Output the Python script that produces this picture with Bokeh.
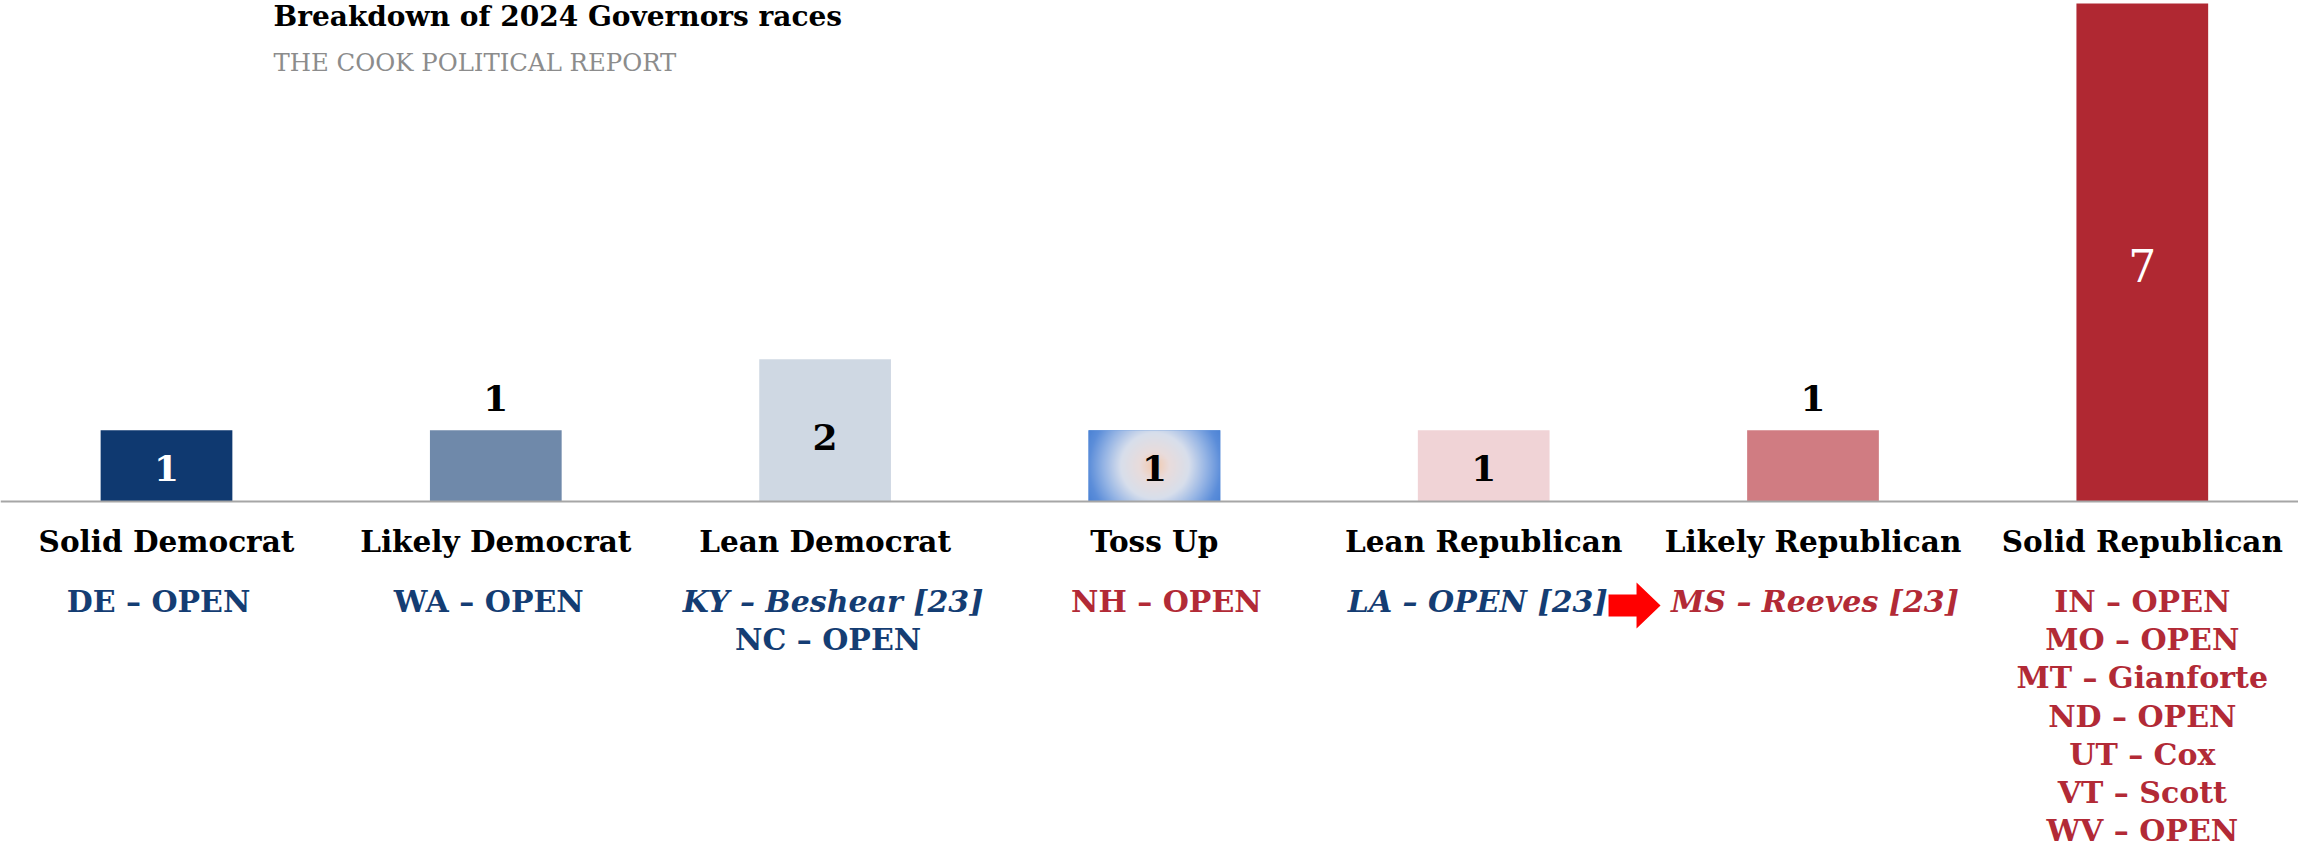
import numpy as np
from bokeh.plotting import figure
from bokeh.models import ColumnDataSource, Range1d, Span, Label
from bokeh.core.properties import value
from bokeh.embed import file_html
from bokeh.resources import INLINE

# ---------------- data ----------------
title_text = "Breakdown of 2024 Governors races"
subtitle_text = "THE COOK POLITICAL REPORT"

categories = ["Solid Democrat", "Likely Democrat", "Lean Democrat", "Toss Up",
              "Lean Republican", "Likely Republican", "Solid Republican"]
counts = [1, 1, 2, 1, 1, 1, 7]

race_category = ["Solid Democrat", "Likely Democrat", "Lean Democrat", "Lean Democrat",
                 "Toss Up", "Lean Republican", "Likely Republican",
                 "Solid Republican", "Solid Republican", "Solid Republican",
                 "Solid Republican", "Solid Republican", "Solid Republican", "Solid Republican"]
race_text = ["DE – OPEN", "WA – OPEN", "KY – Beshear [23]", "NC – OPEN",
             "NH – OPEN", "LA – OPEN [23]", "MS – Reeves [23]",
             "IN – OPEN", "MO – OPEN", "MT – Gianforte", "ND – OPEN",
             "UT – Cox", "VT – Scott", "WV – OPEN"]
race_party = ["D", "D", "D", "D", "R", "D", "R", "R", "R", "R", "R", "R", "R", "R"]
race_2023 = [False, False, True, False, False, True, True,
             False, False, False, False, False, False, False]

# ---------------- styles ----------------
bar_colors = ["#0f3970", "#6f89aa", "#cfd8e3", "#5089d6", "#f0d3d6", "#d07c82", "#b02832"]
label_place = ["inside", "above", "inside", "inside", "inside", "above", "inside"]
label_shift_px = [2, 0, 7, 2, 2, 0, 13]
label_colors = ["white", "black", "black", "black", "black", "black", "white"]
label_styles = ["bold", "bold", "bold", "bold", "bold", "bold", "normal"]
label_sizes = ["36px", "36px", "36px", "36px", "36px", "36px", "44px"]
race_shift_px = [-8, -7, 8, 3, 12, -6, 2, 0, 0, 0, 0, 0, 0, 0]
party_color = {"D": "#143d73", "R": "#b22a36"}
FONT = "DejaVu Serif"
SERIF = value(FONT)

W, H = 2298, 848
PXX = 329.3                 # pixels per category unit
X0 = -166.0 / PXX
X1 = X0 + W / PXX
BASE_PX = 501.0             # baseline position from top
PXU = (BASE_PX - 3.0) / 7.0  # pixels per count unit
Y1 = BASE_PX / PXU
Y0 = Y1 - H / PXU
BAR_W = 0.4


def dy(px):
    return px / PXU


p = figure(width=W, height=H, x_range=Range1d(X0, X1), y_range=Range1d(Y0, Y1),
           output_backend="svg", toolbar_location=None, min_border=0,
           x_axis_location=None, y_axis_location=None)
p.grid.visible = False
p.outline_line_color = None
p.background_fill_color = "white"
p.border_fill_color = "white"

idx = list(range(len(categories)))
bars = ColumnDataSource(dict(x=idx, top=counts, color=bar_colors))
p.vbar(x="x", top="top", bottom=0, width=BAR_W, fill_color="color", line_color=None, source=bars)

# radial gradient on the Toss Up bar
ti = categories.index("Toss Up")
nx, ny = 131, 72
gx, gy = np.meshgrid(np.arange(nx) - (nx - 1) / 2, np.arange(ny) - (ny - 1) / 2)
r = np.sqrt(gx ** 2 + gy ** 2) / np.sqrt(((nx - 1) / 2) ** 2 + ((ny - 1) / 2) ** 2)
stops = [0.0, 0.2, 0.45, 0.68, 0.88, 1.0]
cols = np.array([[243, 201, 172], [233, 220, 220], [216, 223, 236],
                 [150, 181, 229], [92, 142, 218], [76, 131, 213]], dtype=float)
rgb = np.stack([np.interp(r, stops, cols[:, k]) for k in range(3)], axis=-1).astype(np.uint8)
img = np.empty((ny, nx), dtype=np.uint32)
view = img.view(dtype=np.uint8).reshape((ny, nx, 4))
view[..., 0] = rgb[..., 0]
view[..., 1] = rgb[..., 1]
view[..., 2] = rgb[..., 2]
view[..., 3] = 255
p.image_rgba(image=[img], x=ti - BAR_W / 2, y=0, dw=BAR_W, dh=counts[ti])

# baseline
p.add_layout(Span(location=0, dimension="width", line_color="#a6a6a6", line_width=2, level="overlay"))

# value labels
ly = []
for c, pl, sh in zip(counts, label_place, label_shift_px):
    ly.append(c + dy(32) if pl == "above" else c / 2 - dy(sh))
vals = ColumnDataSource(dict(x=idx, y=ly, t=[str(c) for c in counts],
                             color=label_colors, style=label_styles, size=label_sizes))
p.text(x="x", y="y", text="t", text_color="color", text_font=SERIF, text_font_style="style",
       text_font_size="size", text_align="center", text_baseline="middle", source=vals)

# category labels
cats = ColumnDataSource(dict(x=idx, y=[-dy(40)] * len(idx), t=categories))
p.text(x="x", y="y", text="t", text_color="black", text_font=SERIF, text_font_style="bold",
       text_font_size="29.5px", text_align="center", text_baseline="middle", source=cats)

# race labels
rx, ry, rc, rs = [], [], [], []
line_no = {}
for cat, party, is23, sh in zip(race_category, race_party, race_2023, race_shift_px):
    i = categories.index(cat)
    j = line_no.get(cat, 0)
    line_no[cat] = j + 1
    rx.append(i + sh / PXX)
    ry.append(-dy(100 + 38.2 * j))
    rc.append(party_color[party])
    rs.append("bold italic" if is23 else "bold")
races = ColumnDataSource(dict(x=rx, y=ry, t=race_text, color=rc, style=rs))
p.text(x="x", y="y", text="t", text_color="color", text_font=SERIF, text_font_style="style",
       text_font_size="30px", text_align="center", text_baseline="middle", source=races)

# red shift arrow (Lean Republican -> Likely Republican)
a_from = categories.index("Lean Republican")
cx = a_from + 0.455
cy = -dy(104)
shape_px = [(-25, -11), (3, -11), (3, -23), (27, 0), (3, 23), (3, 11), (-25, 11)]
p.patch(x=[cx + sx / PXX for sx, sy in shape_px], y=[cy + sy / PXU for sx, sy in shape_px],
        fill_color="#ff0000", line_color=None)

# title & subtitle
p.add_layout(Label(x=X0 + 273 / PXX, y=Y1 - dy(16), text=title_text, text_font=FONT,
                   text_font_style="bold", text_font_size="28px", text_color="black",
                   text_baseline="middle", text_align="left"))
p.add_layout(Label(x=X0 + 273 / PXX, y=Y1 - dy(62), text=subtitle_text, text_font=FONT,
                   text_font_style="normal", text_font_size="24.4px", text_color="#8c8c8c",
                   text_baseline="middle", text_align="left"))

open("out.html", "w").write(file_html(p, INLINE))
